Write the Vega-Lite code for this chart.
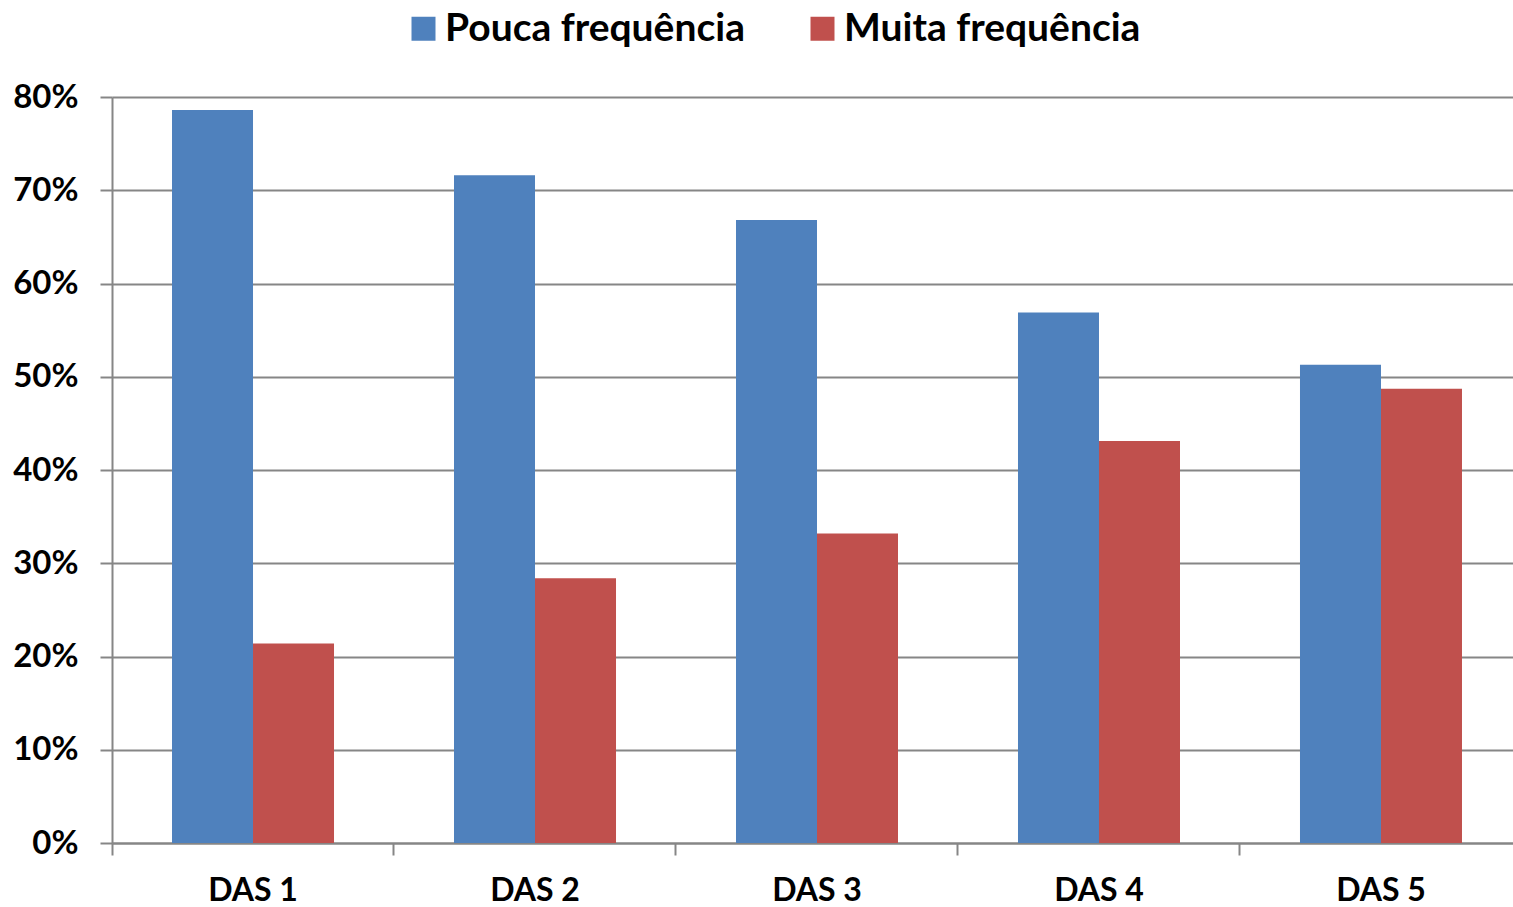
{
  "$schema": "https://vega.github.io/schema/vega-lite/v6.json",
  "width": 1410,
  "height": 746,
  "autosize": "none",
  "padding": {"left": 112, "top": 97, "right": 0, "bottom": 64},
  "background": "white",
  "data": {
    "values": [
      {"grupo": "DAS 1", "serie": "Pouca frequência", "valor": 0.786},
      {"grupo": "DAS 1", "serie": "Muita frequência", "valor": 0.214},
      {"grupo": "DAS 2", "serie": "Pouca frequência", "valor": 0.716},
      {"grupo": "DAS 2", "serie": "Muita frequência", "valor": 0.284},
      {"grupo": "DAS 3", "serie": "Pouca frequência", "valor": 0.668},
      {"grupo": "DAS 3", "serie": "Muita frequência", "valor": 0.332},
      {"grupo": "DAS 4", "serie": "Pouca frequência", "valor": 0.569},
      {"grupo": "DAS 4", "serie": "Muita frequência", "valor": 0.431},
      {"grupo": "DAS 5", "serie": "Pouca frequência", "valor": 0.513},
      {"grupo": "DAS 5", "serie": "Muita frequência", "valor": 0.487}
    ]
  },
  "mark": {"type": "bar"},
  "encoding": {
    "x": {
      "field": "grupo",
      "type": "nominal",
      "title": null,
      "scale": {"paddingInner": 0.4255, "paddingOuter": 0.2128},
      "axis": {
        "labelAngle": 0,
        "bandPosition": -0.3704,
        "labelFont": "Lato",
        "labelFontWeight": "bold",
        "labelFontSize": 32,
        "labelColor": "black",
        "labelPadding": 20,
        "tickSize": 12,
        "tickColor": "#868686",
        "domainColor": "#868686",
        "domainWidth": 2,
        "tickWidth": 2,
        "labelBound": false
      }
    },
    "xOffset": {
      "field": "serie",
      "type": "nominal",
      "sort": ["Pouca frequência", "Muita frequência"]
    },
    "y": {
      "field": "valor",
      "type": "quantitative",
      "title": null,
      "scale": {"domain": [0, 0.8], "nice": false},
      "axis": {
        "format": ".0%",
        "values": [0, 0.1, 0.2, 0.3, 0.4, 0.5, 0.6, 0.7, 0.8],
        "labelFont": "Lato",
        "labelFontWeight": "bold",
        "labelFontSize": 33,
        "labelColor": "black",
        "labelPadding": 22,
        "tickSize": 12,
        "tickColor": "#868686",
        "tickWidth": 2,
        "domainColor": "#868686",
        "domainWidth": 2,
        "grid": true,
        "gridColor": "#868686",
        "gridWidth": 2
      }
    },
    "color": {
      "field": "serie",
      "type": "nominal",
      "title": null,
      "scale": {
        "domain": ["Pouca frequência", "Muita frequência"],
        "range": ["#4F81BD", "#C0504D"]
      },
      "legend": {
        "orient": "none",
        "legendX": 292,
        "legendY": -88,
        "direction": "horizontal",
        "symbolType": "square",
        "symbolSize": 576,
        "symbolStrokeWidth": 0,
        "labelFont": "Lato",
        "labelFontWeight": "bold",
        "labelFontSize": 39,
        "labelColor": "black",
        "labelOffset": 2,
        "columnPadding": 58,
        "labelLimit": 500
      }
    }
  },
  "config": {
    "view": {"stroke": null}
  }
}
